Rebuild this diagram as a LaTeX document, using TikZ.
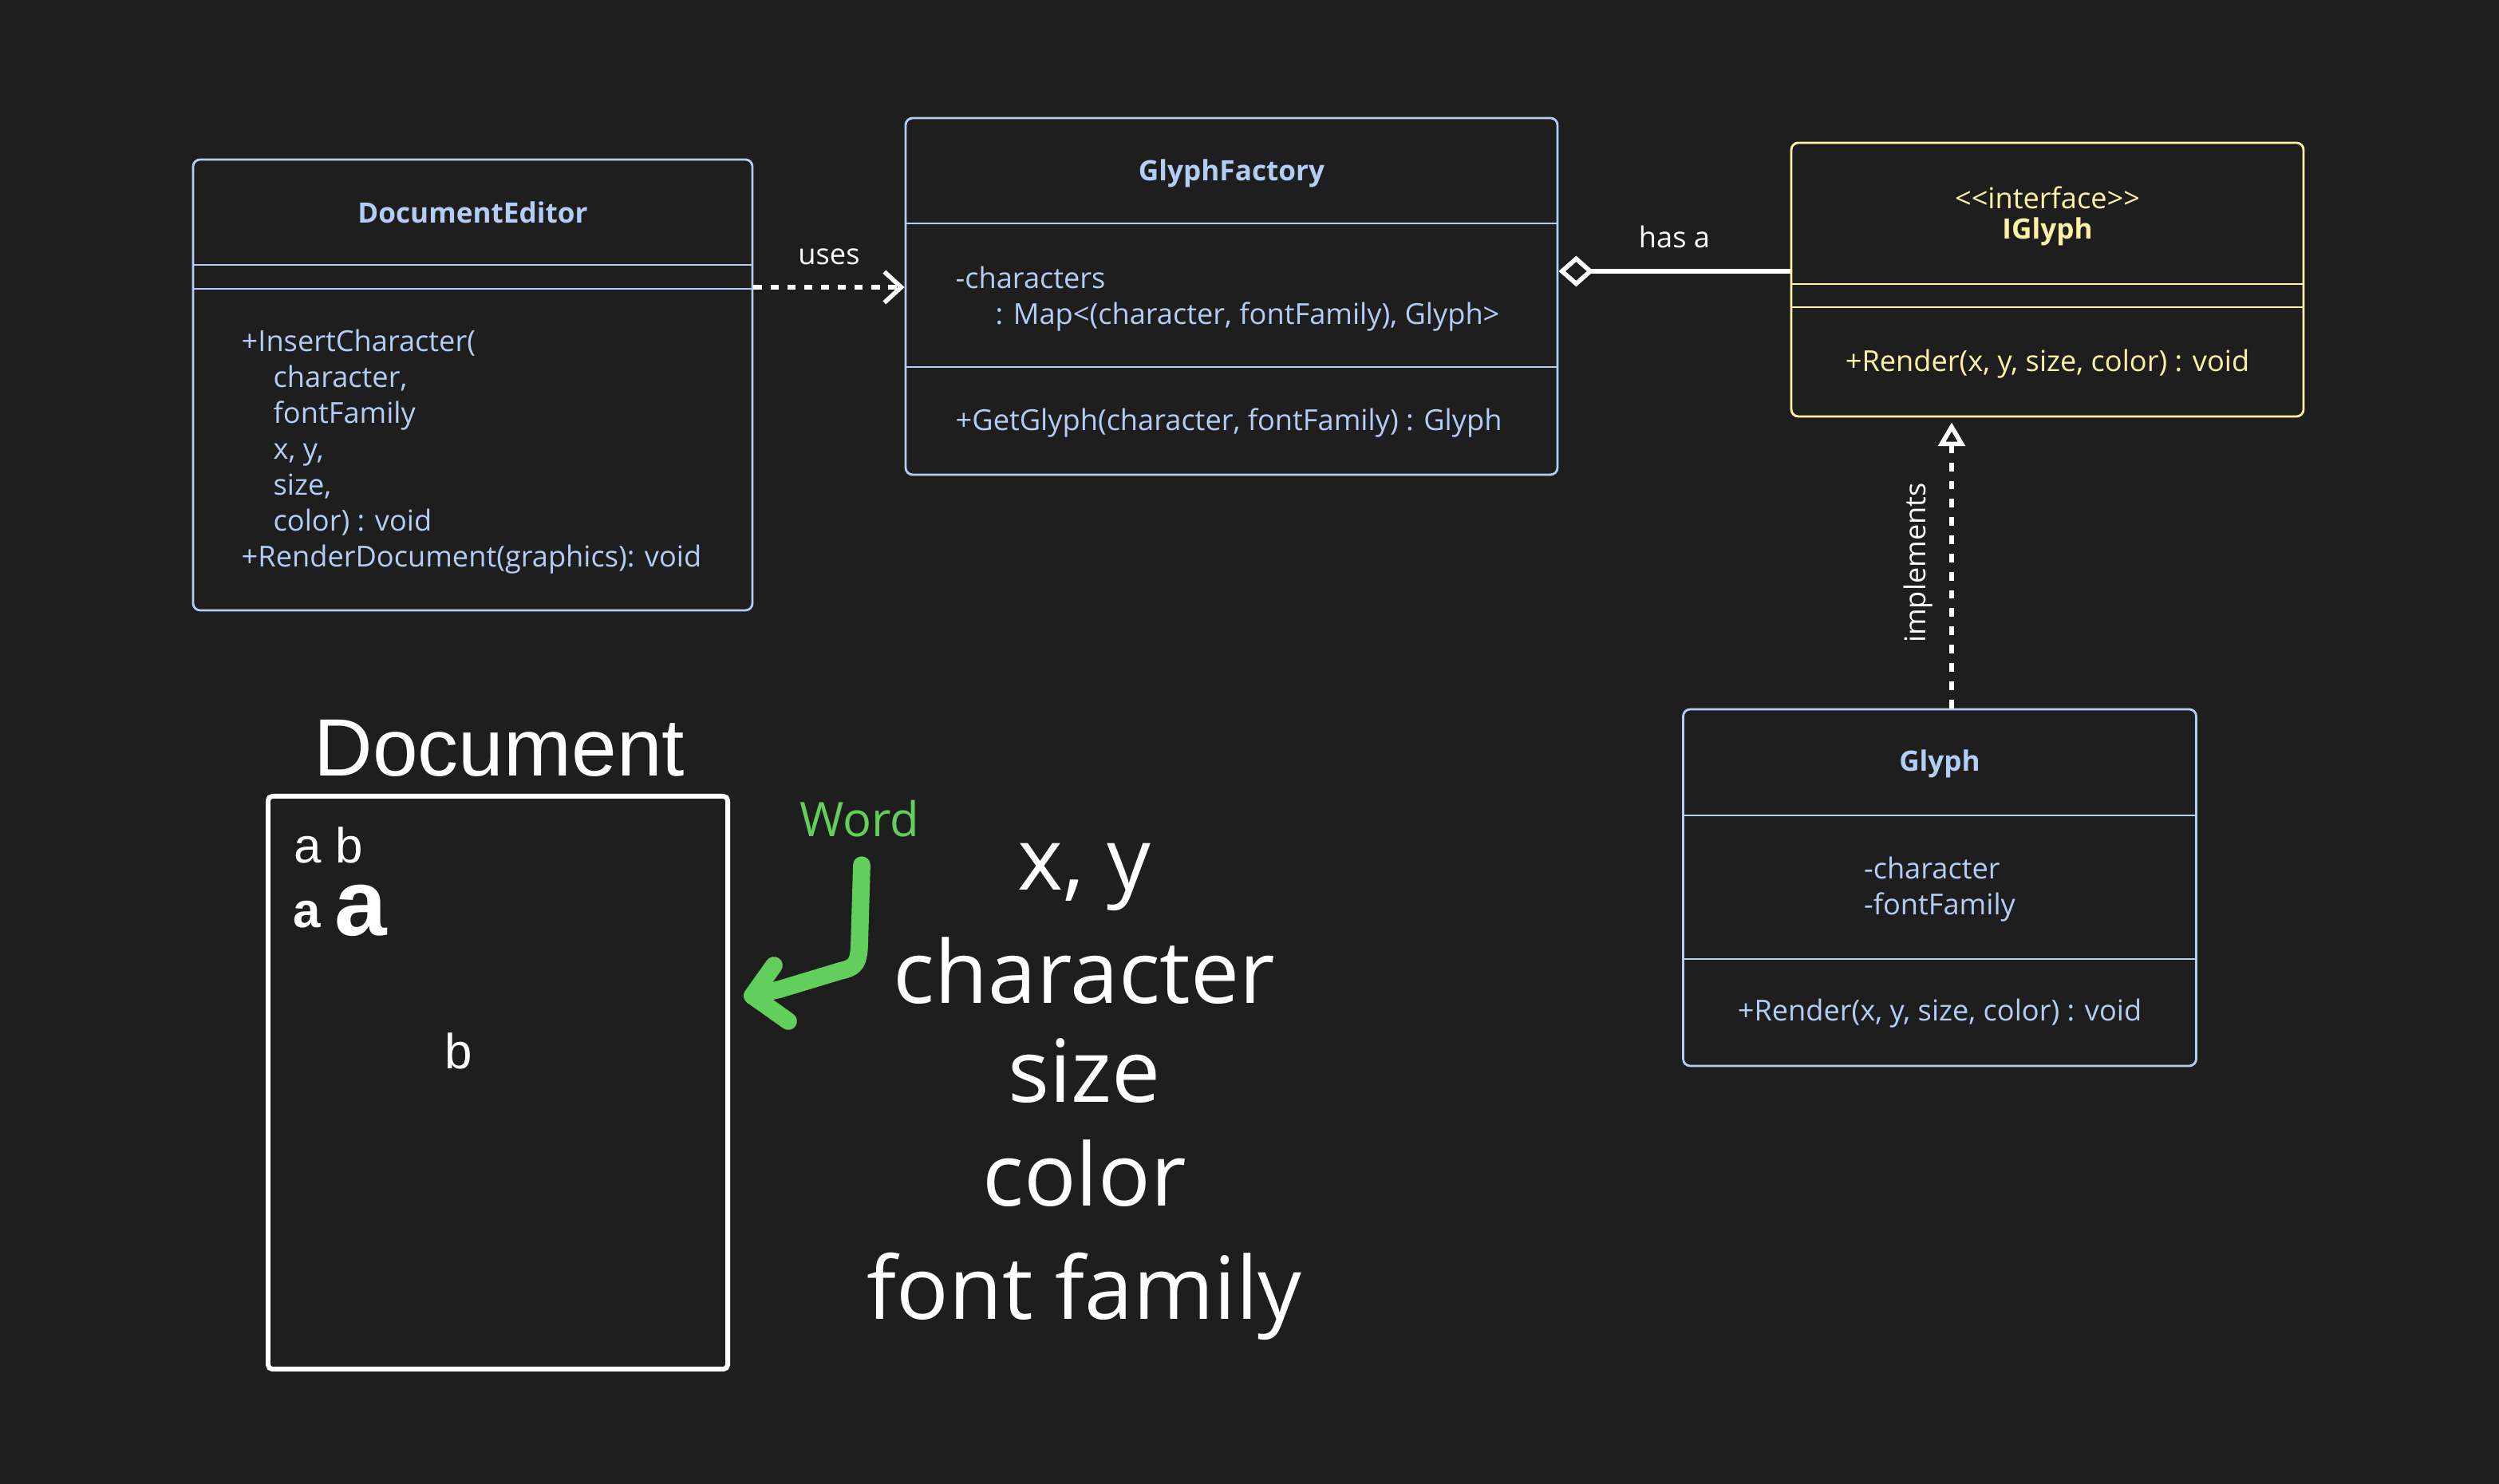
\documentclass[tikz,border=0pt]{standalone}
\usepackage{fontspec}
\setmainfont{Open Sans}
\newfontfamily\helvfont{Liberation Sans}
\usetikzlibrary{arrows.meta,calc}
\definecolor{canvas}{HTML}{1E1E1E}
\definecolor{umlblue}{HTML}{B3CDF5}
\definecolor{umlyellow}{HTML}{FFF2A6}
\definecolor{wordgreen}{HTML}{62CF5C}
\newcommand{\ind}{\hspace*{4mm}}

\begin{document}
\begin{tikzpicture}[x=1cm,y=1cm,font=\fontsize{10.3}{12.8}\selectfont,
 cls/.style={draw=umlblue,rounded corners=2.5pt,line width=.8pt,inner sep=0pt},
 txt/.style={text=umlblue,inner sep=0pt,align=left},
 ttl/.style={text=umlblue,inner sep=0pt,font=\bfseries\fontsize{10}{12}\selectfont},
 sep/.style={draw=umlblue,line width=.8pt},
 lbl/.style={text=white,inner sep=0pt},
 dep/.style={-{Straight Barb[length=6pt,width=11pt]},draw=white,line width=1.6pt,dash pattern=on 3pt off 3pt},
 agg/.style={-{Diamond[open,length=12.5pt,width=11pt]},draw=white,line width=1.6pt},
 real/.style={-{Triangle[open,length=8.5pt,width=9.5pt]},draw=white,line width=1.6pt,dash pattern=on 3.1pt off 3.4pt,shorten >=.6mm},
 letter/.style={text=white,inner sep=0pt,anchor=base west,font=\helvfont\fontsize{17.6}{20}\selectfont},
 big/.style={text=white,inner sep=0pt,anchor=base,font=\fontsize{31}{37}\selectfont},
 pen/.style={draw=wordgreen,line width=6.2pt,line cap=round,line join=round}]
\fill[canvas] (0,0) rectangle (31.32,18.6);
\useasboundingbox (0,0) rectangle (31.32,18.6);
% DocumentEditor
\node[cls,minimum width=7.01cm,minimum height=5.65cm] (editor) at (5.925,13.775) {};
\node[ttl] at (5.925,15.94) {DocumentEditor};
\draw[sep] (editor.west |- 0,15.28) -- (editor.east |- 0,15.28);
\draw[sep] (editor.west |- 0,14.98) -- (editor.east |- 0,14.98);
\node[txt,anchor=west] at (3.02,12.94) {+InsertCharacter(\\\ind character,\\\ind fontFamily\\\ind x, y,\\\ind size,\\\ind color) : void\\+RenderDocument(graphics): void};
% GlyphFactory
\node[cls,minimum width=8.17cm,minimum height=4.47cm] (factory) at (15.435,14.885) {};
\node[ttl] at (15.435,16.43) {GlyphFactory};
\draw[sep] (factory.west |- 0,15.80) -- (factory.east |- 0,15.80);
\draw[sep] (factory.west |- 0,14.00) -- (factory.east |- 0,14.00);
\node[txt,anchor=west] at (11.97,14.855) {-characters\\\hspace*{5mm}: Map<(character, fontFamily), Glyph>};
\node[txt,anchor=west] at (11.97,13.30) {+GetGlyph(character, fontFamily) : Glyph};
% IGlyph
\node[cls,draw=umlyellow,minimum width=6.42cm,minimum height=3.43cm] (iglyph) at (25.66,15.095) {};
\node[txt,text=umlyellow] at (25.66,16.12) {<{}<interface>{}>};
\node[ttl,text=umlyellow] at (25.66,15.70) {IGlyph};
\draw[sep,draw=umlyellow] (iglyph.west |- 0,15.04) -- (iglyph.east |- 0,15.04);
\draw[sep,draw=umlyellow] (iglyph.west |- 0,14.75) -- (iglyph.east |- 0,14.75);
\node[txt,text=umlyellow] at (25.66,14.04) {+Render(x, y, size, color) : void};
% Glyph
\node[cls,minimum width=6.43cm,minimum height=4.47cm] (glyph) at (24.31,7.475) {};
\node[ttl] at (24.31,9.03) {Glyph};
\draw[sep] (glyph.west |- 0,8.38) -- (glyph.east |- 0,8.38);
\draw[sep] (glyph.west |- 0,6.58) -- (glyph.east |- 0,6.58);
\node[txt] at (24.31,7.455) {-character\\-fontFamily};
\node[txt] at (24.31,5.90) {+Render(x, y, size, color) : void};
% relations
\draw[dep] ([yshift=1.15mm]factory.west -| editor.east) -- node[lbl,midway,above=2.5mm] {uses} ([yshift=1.15mm]factory.west);
\draw[agg] ([yshift=1.05mm]iglyph.west) -- node[lbl,midway,above=2.6mm] {has a} ([yshift=1.05mm]iglyph.west -| factory.east);
\draw[real] ([xshift=1.5mm]glyph.north) -- node[lbl,midway,sloped,above=2.1mm] {implements} ([xshift=1.5mm]glyph.north |- iglyph.south);
% document sketch
\node[text=white,inner sep=0pt,anchor=base,font=\helvfont\fontsize{29}{35}\selectfont] (doctitle) at (6.26,8.87) {Document};
\node[draw=white,line width=1.7pt,rounded corners=1.5pt,minimum width=5.76cm,minimum height=7.18cm,inner sep=0pt] (page) at (6.24,5.03) {};
\node[letter] (ab) at (3.68,7.78) {a b};
\node[letter,font=\helvfont\bfseries\fontsize{17.6}{20}\selectfont] (asmall) at (3.67,6.97) {a};
\node[letter,font=\helvfont\bfseries\fontsize{33.5}{40}\selectfont] (abig) at (4.19,6.87) {a};
\node[letter] (blone) at (5.57,5.20) {b};
\node[text=wordgreen,inner sep=0pt,anchor=base,font=\fontsize{17}{20}\selectfont] (word) at (10.77,8.11) {Word};
\coordinate (wordtip) at (9.43,6.12);
\draw[pen] ([xshift=.3mm,yshift=-3.4mm]word.south) -- (10.77,6.75) .. controls (10.76,6.50) and (10.70,6.47) .. (10.53,6.43) -- (9.77,6.20) -- (wordtip);
\draw[pen] ($(wordtip)+(0.27,0.38)$) -- (wordtip) -- ($(wordtip)+(0.45,-0.32)$);
% glyph properties
\node[big] (xy) at (13.59,7.44) {x, y};
\node[big] (chr) at (13.59,6.025) {character};
\node[big] (sz) at (13.59,4.78) {size};
\node[big] (col) at (13.59,3.48) {color};
\node[big] (ff) at (13.59,2.06) {font family};
\end{tikzpicture}
\end{document}
